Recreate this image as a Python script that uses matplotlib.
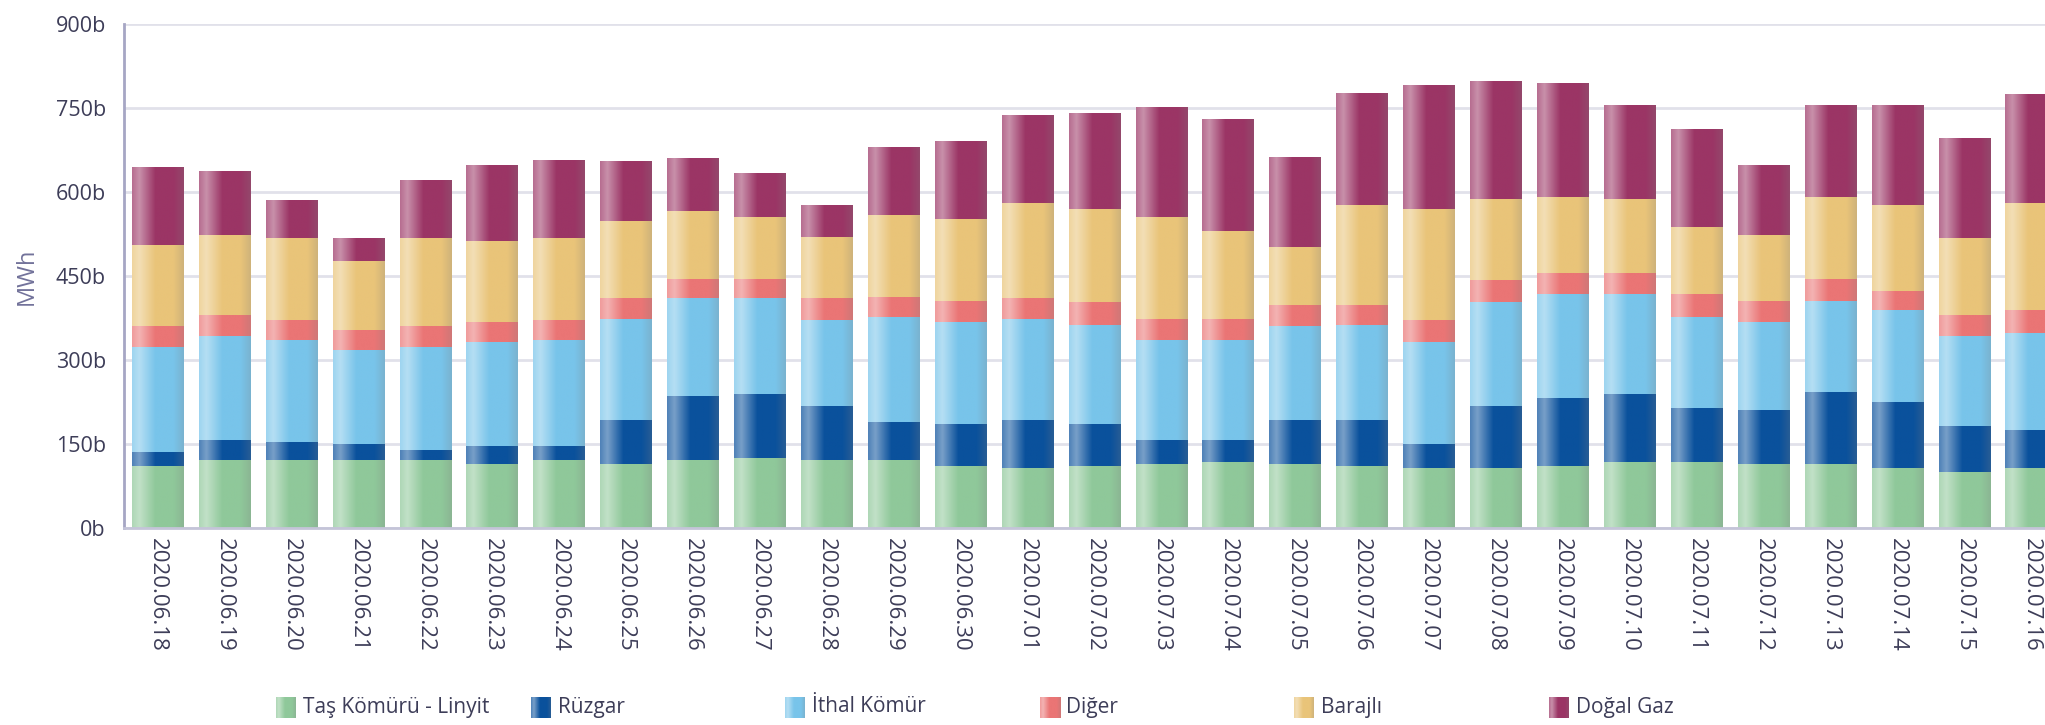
import numpy as np
import matplotlib
matplotlib.use("Agg")
import matplotlib.pyplot as plt
from matplotlib.colors import to_rgb

dates = ["2020.06.18", "2020.06.19", "2020.06.20", "2020.06.21", "2020.06.22", "2020.06.23",
         "2020.06.24", "2020.06.25", "2020.06.26", "2020.06.27", "2020.06.28", "2020.06.29",
         "2020.06.30", "2020.07.01", "2020.07.02", "2020.07.03", "2020.07.04", "2020.07.05",
         "2020.07.06", "2020.07.07", "2020.07.08", "2020.07.09", "2020.07.10", "2020.07.11",
         "2020.07.12", "2020.07.13", "2020.07.14", "2020.07.15", "2020.07.16"]

tas_komuru = [111, 121, 121, 121, 121, 115, 121, 115, 121, 125, 121, 121, 111, 107, 111,
              115, 118, 115, 111, 107, 107, 111, 118, 118, 115, 115, 107, 100, 107]
ruzgar = [24, 36, 32, 29, 18, 31, 25, 77, 114, 114, 97, 68, 75, 85, 75,
          42, 39, 77, 81, 43, 111, 121, 121, 96, 95, 128, 118, 82, 68]
ithal_komur = [189, 185, 182, 167, 185, 186, 189, 182, 175, 171, 153, 188, 181, 182, 177,
               178, 178, 168, 171, 182, 185, 185, 178, 163, 157, 163, 164, 160, 174]
diger = [36, 39, 36, 36, 36, 35, 36, 36, 35, 35, 39, 36, 39, 36, 40,
         39, 39, 39, 36, 39, 39, 39, 39, 40, 39, 39, 35, 39, 40]
barajli = [146, 142, 146, 124, 157, 146, 146, 138, 121, 111, 110, 146, 146, 170, 167,
           182, 157, 103, 178, 199, 146, 135, 132, 121, 117, 146, 153, 136, 191]
dogal_gaz = [139, 114, 67, 40, 102, 135, 138, 107, 93, 78, 57, 121, 139, 157, 171,
             195, 199, 160, 199, 220, 210, 203, 167, 174, 125, 164, 178, 177, 193]

series_names = ["Taş Kömürü - Linyit", "Rüzgar", "İthal Kömür", "Diğer", "Barajlı", "Doğal Gaz"]
series_values = [tas_komuru, ruzgar, ithal_komur, diger, barajli, dogal_gaz]
series_colors = ["#8fc89a", "#0a519c", "#78c4ea", "#ea7575", "#e9c479", "#9b3565"]

yticks = [0, 150, 300, 450, 600, 750, 900]
ytick_labels = ["0b", "150b", "300b", "450b", "600b", "750b", "900b"]

W, H = 2045, 725
plt.rcParams['font.family'] = ['Open Sans', 'DejaVu Sans']
text_color = "#3d3d58"


def grad(color, n=96):
    base = np.array(to_rgb(color))
    xs = np.linspace(0, 1, n)
    w = np.interp(xs, [0, 0.14, 0.45, 1], [0.28, 0.45, 0.0, 0.0])
    g = np.interp(xs, [0, 0.8, 1.0], [0, 0, 0.25])
    img = base * (1 - w[:, None]) + w[:, None]
    img = img * (1 - g[:, None]) + 0.5 * g[:, None]
    return np.clip(img[None, :, :], 0, 1)


fig = plt.figure(figsize=(W / 100, H / 100), dpi=100)
ax = fig.add_axes([124 / W, 1 - 528 / H, 1 - 124 / W, (528 - 24) / H])

x = np.arange(len(dates))
bottom = np.zeros(len(dates))
bar_w = 0.763
for name, vals, col in zip(series_names, series_values, series_colors):
    vals = np.array(vals, dtype=float)
    bars = ax.bar(x, vals, bottom=bottom, width=bar_w, color=col, edgecolor='none',
                  zorder=2, label=name)
    img = grad(col)
    for rect in bars:
        x0, y0 = rect.get_x(), rect.get_y()
        w, h = rect.get_width(), rect.get_height()
        ax.imshow(img, extent=[x0, x0 + w, y0, y0 + h], aspect='auto', zorder=2.1,
                  interpolation='bilinear')
    bottom += vals

ax.set_xlim(-0.5, 28.21)
ax.set_ylim(0, 900)
ax.set_yticks(yticks)
ax.set_yticklabels(ytick_labels)
ax.set_xticks(x)
ax.set_xticklabels(dates, rotation=-90, va='top', ha='center')
ax.tick_params(axis='x', length=0, pad=7, labelsize=16, labelcolor=text_color)
ax.tick_params(axis='y', length=0, pad=13, labelsize=15.5, labelcolor=text_color)
ax.grid(axis='y', color="#e1e1ea", linewidth=2, zorder=0.5)
ax.set_axisbelow(True)
for s in ['top', 'right']:
    ax.spines[s].set_visible(False)
ax.spines['left'].set_color("#a6a6c4")
ax.spines['left'].set_linewidth(2)
ax.spines['bottom'].set_color("#c4c4d8")
ax.spines['bottom'].set_linewidth(2)
ax.set_ylabel("MWh", color="#72729a", fontsize=17, labelpad=12)

# legend
for i, (name, col) in enumerate(zip(series_names, series_colors)):
    px = 276 + i * 254.5
    lax = fig.add_axes([px / W, 1 - 718 / H, 20 / W, 21 / H])
    lax.imshow(grad(col), aspect='auto', interpolation='bilinear')
    lax.axis('off')
    fig.text((px + 27) / W, 1 - 707 / H, name, va='center', ha='left',
             fontsize=15, color=text_color)

fig.savefig("out.png", dpi=100)
